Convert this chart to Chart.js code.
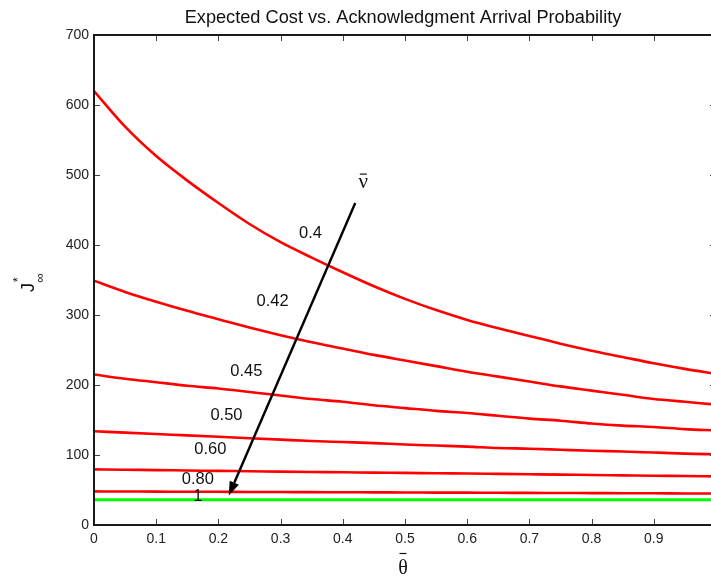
<!DOCTYPE html>
<html>
<head>
<meta charset="utf-8">
<script src="https://cdn.jsdelivr.net/npm/chart.js@4/dist/chart.umd.min.js"></script>
<style>
html,body{margin:0;padding:0;background:#fff;overflow:hidden;width:711px;height:579px}
#wrap{width:740px;height:579px}
</style>
</head>
<body>
<div id="wrap"><canvas id="c" width="740" height="579"></canvas></div>
<script>
// ---- data ----
const thetaBar = [0,0.05,0.1,0.15,0.2,0.25,0.3,0.35,0.4,0.45,0.5,0.55,0.6,0.65,0.7,0.75,0.8,0.85,0.9,0.95,1.0];
const nu040 = [620,569,527,492,460,430,404,382,361,341,323,307,293,281,270,259,249,240,231,223,216];
const nu042 = [349,333,319,306,294,282,271,261,252,243,235,227,219,212,205,198,192,186,180,176,172];
const nu045 = [215,209,204,199,195,190,185,180,176,171,167,163,160,156,152,149,145,142,140,137,135];
const nu050 = [134,132,130,128,126,124,122,120,118.5,117,115,113.5,112,110,109,107.5,106,105,103.5,102,101];
const nu060 = [79.5,79,78.4,77.9,77.3,76.8,76.2,75.7,75.3,74.8,74.4,73.9,73.5,73,72.5,72,71.4,70.9,70.4,70,69.5];
const nu080 = [48,47.8,47.7,47.5,47.4,47.2,47.1,46.9,46.8,46.6,46.5,46.3,46.2,46,45.9,45.7,45.6,45.4,45.3,45.1,45];
const nu100 = [36,36,36,36,36,36,36,36,36,36,36,36,36,36,36,36,36,36,36,36,36];
const nuLabels = ['0.4','0.42','0.45','0.50','0.60','0.80','1'];
const xTicks = [0,0.1,0.2,0.3,0.4,0.5,0.6,0.7,0.8,0.9,1.0];
const yTicks = [0,100,200,300,400,500,600,700];

const titleText = 'Expected Cost vs. Acknowledgment Arrival Probability';

// annotation anchors (data coordinates)
const labelAnchorX = [0.348,0.287,0.245,0.213,0.187,0.167,0.167];
const labelAnchorY = [418,321,221,158.5,109.5,66.5,43];
const arrowFrom = [0.42,460];
const arrowTo = [0.2166,42];
const nuBarAnchor = [0.433,492];

const FONT = '"Liberation Sans", Arial, Helvetica, sans-serif';
const SERIF = '"Liberation Serif", "DejaVu Serif", "Times New Roman", serif';

const series = [nu040,nu042,nu045,nu050,nu060,nu080,nu100];
const datasets = series.map((arr,i)=>({
  label: nuLabels[i],
  data: thetaBar.map((t,j)=>({x:t,y:arr[j]})),
  borderColor: i===6 ? '#00ff00' : '#ff0000',
  borderWidth: i===6 ? 3 : 2.6,
  pointRadius: 0,
  fill: false,
  cubicInterpolationMode: 'monotone'
}));

const matlabPlugin = {
  id:'matlab',
  beforeDraw(chart){
    const ctx = chart.ctx;
    ctx.save();
    ctx.fillStyle = '#fff';
    ctx.fillRect(0,0,chart.width,chart.height);
    ctx.restore();
  },
  afterDraw(chart){
    const ctx = chart.ctx;
    const xs = chart.scales.x, ys = chart.scales.y;
    const a = chart.chartArea;
    ctx.save();
    // inward ticks
    ctx.strokeStyle = '#444';
    ctx.lineWidth = 1;
    ctx.beginPath();
    yTicks.forEach(v=>{
      const p = Math.round(ys.getPixelForValue(v))+0.5;
      ctx.moveTo(a.left,p); ctx.lineTo(a.left+6,p);
      ctx.moveTo(a.right,p); ctx.lineTo(a.right-6,p);
    });
    xTicks.forEach(v=>{
      const p = Math.round(xs.getPixelForValue(v))+0.5;
      ctx.moveTo(p,a.bottom); ctx.lineTo(p,a.bottom-6);
      ctx.moveTo(p,a.top); ctx.lineTo(p,a.top+6);
    });
    ctx.stroke();
    // box
    ctx.strokeStyle = '#1a1a1a';
    ctx.lineWidth = 2;
    ctx.strokeRect(a.left,a.top,a.right-a.left,a.bottom-a.top);

    // title
    ctx.fillStyle = '#111';
    ctx.font = '18.2px ' + FONT;
    ctx.textAlign = 'center';
    ctx.textBaseline = 'alphabetic';
    ctx.fillText(titleText,(a.left+a.right)/2 - 2,23);

    // curve labels
    ctx.font = '16.5px ' + FONT;
    ctx.fillStyle = '#111';
    nuLabels.forEach((t,i)=>{
      const px = xs.getPixelForValue(labelAnchorX[i]);
      const py = ys.getPixelForValue(labelAnchorY[i]);
      ctx.fillText(t,px,py+6);
    });

    // arrow
    const x0 = xs.getPixelForValue(arrowFrom[0]), y0 = ys.getPixelForValue(arrowFrom[1]);
    const x1 = xs.getPixelForValue(arrowTo[0]), y1 = ys.getPixelForValue(arrowTo[1]);
    const ang = Math.atan2(y1-y0,x1-x0);
    const hl = 14, hw = 5;
    const bx = x1 - hl*Math.cos(ang), by = y1 - hl*Math.sin(ang);
    ctx.strokeStyle = '#000';
    ctx.lineWidth = 2.4;
    ctx.beginPath();
    ctx.moveTo(x0,y0); ctx.lineTo(bx,by);
    ctx.stroke();
    ctx.fillStyle = '#000';
    ctx.beginPath();
    ctx.moveTo(x1,y1);
    ctx.lineTo(bx + hw*Math.sin(ang), by - hw*Math.cos(ang));
    ctx.lineTo(bx - hw*Math.sin(ang), by + hw*Math.cos(ang));
    ctx.closePath();
    ctx.fill();

    // nu-bar label
    const nx = xs.getPixelForValue(nuBarAnchor[0]), ny = ys.getPixelForValue(nuBarAnchor[1]);
    ctx.font = '21px ' + SERIF;
    ctx.fillStyle = '#111';
    ctx.textAlign = 'center';
    ctx.fillText('ν',nx,ny+7);
    ctx.lineWidth = 1.2;
    ctx.strokeStyle = '#111';
    ctx.beginPath();
    ctx.moveTo(nx-3.5,ny-6.5); ctx.lineTo(nx+3.5,ny-6.5);
    ctx.stroke();

    // x-axis label theta-bar
    const tx = (a.left+a.right)/2 - 2;
    ctx.font = '20px ' + SERIF;
    ctx.fillText('θ',tx,574);
    ctx.beginPath();
    ctx.moveTo(tx-3.5,553.5); ctx.lineTo(tx+3.5,553.5);
    ctx.stroke();

    // y-axis label J*_inf (rotated)
    ctx.save();
    ctx.translate(34,292);
    ctx.rotate(-Math.PI/2);
    ctx.textAlign = 'left';
    ctx.textBaseline = 'alphabetic';
    ctx.font = '18px ' + FONT;
    ctx.fillText('J',0,0);
    ctx.font = '13px ' + FONT;
    ctx.textAlign = 'center';
    ctx.fillText('*',12.3,-12);
    ctx.fillText('∞',14.2,9.5);
    ctx.restore();

    ctx.restore();
  }
};

new Chart(document.getElementById('c'), {
  type: 'line',
  data: { datasets },
  plugins: [matlabPlugin],
  options: {
    responsive: false,
    animation: false,
    layout: { padding: { top: 35, right: 24, left: 0, bottom: 0 } },
    plugins: { legend: { display: false }, tooltip: { enabled: false }, title: { display: false } },
    scales: {
      x: {
        type: 'linear', min: 0, max: 1,
        grid: { display: false, drawTicks: false }, border: { display: false },
        afterFit: s => { s.height = 54; },
        afterBuildTicks: s => { s.ticks = xTicks.map(v=>({value:v})); },
        ticks: {
          autoSkip: false, maxRotation: 0, padding: 6,
          color: '#222', font: { family: FONT, size: 14 },
          callback: v => (v > 0.95 ? '' : String(Number(v.toFixed(1))))
        }
      },
      y: {
        type: 'linear', min: 0, max: 700,
        grid: { display: false, drawTicks: false }, border: { display: false },
        afterFit: s => { s.width = 94; },
        afterBuildTicks: s => { s.ticks = yTicks.map(v=>({value:v})); },
        ticks: {
          padding: 5, color: '#222', font: { family: FONT, size: 14 },
          callback: v => String(v)
        }
      }
    }
  }
});
</script>
</body>
</html>
